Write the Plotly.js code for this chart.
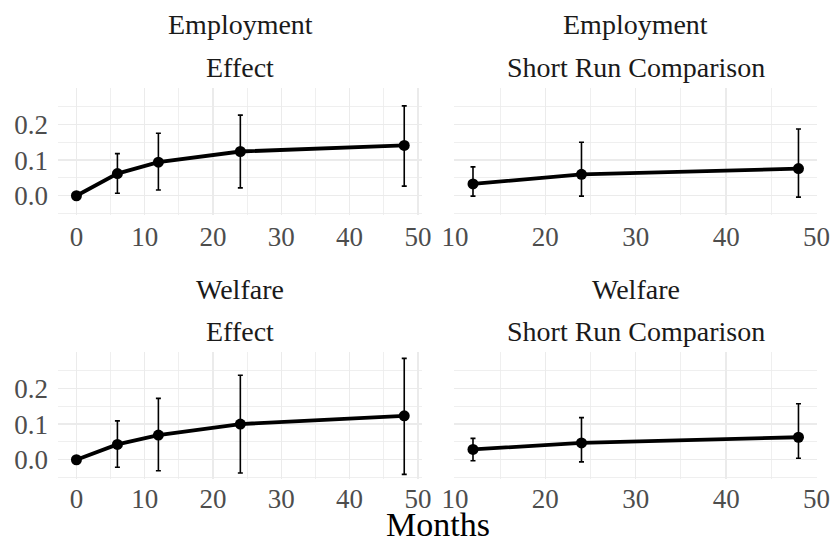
<!DOCTYPE html>
<html>
<head>
<meta charset="utf-8">
<script src="https://cdn.plot.ly/plotly-3.0.1.min.js"></script>
<style>
  html, body { margin: 0; padding: 0; background: #ffffff; }
  #chart { width: 833px; height: 544px; }
</style>
</head>
<body>
<div id="chart"></div>
<script>
// Months after random assignment
const monthsEffect = [0, 6, 12, 24, 48];
const monthsShortRun = [12, 24, 48];

// Employment: estimate with 95% interval
const empEffect   = [0, 0.062, 0.094, 0.124, 0.141];
const empEffectLo = [0, 0.007, 0.016, 0.022, 0.027];
const empEffectHi = [0, 0.118, 0.175, 0.226, 0.252];

const empShortRun   = [0.033, 0.060, 0.076];
const empShortRunLo = [-0.001, -0.001, -0.004];
const empShortRunHi = [0.081, 0.150, 0.187];

// Welfare: estimate with 95% interval
const welEffect   = [0, 0.043, 0.069, 0.100, 0.123];
const welEffectLo = [0, -0.021, -0.031, -0.037, -0.041];
const welEffectHi = [0, 0.109, 0.172, 0.237, 0.284];

const welShortRun   = [0.029, 0.047, 0.063];
const welShortRunLo = [-0.003, -0.006, 0.004];
const welShortRunHi = [0.060, 0.118, 0.157];

// Axis breaks
const yBreaks = [0, 0.1, 0.2];
const yMinorBreaks = [-0.05, 0.05, 0.15, 0.25];

// Facet strip labels
const outcomes = ["Employment", "Welfare"];
const comparisons = ["Effect", "Short Run Comparison"];
const xLabel = "Months";

const FONT = "'Liberation Serif', 'Times New Roman', 'DejaVu Serif', serif";

function series(x, y, lo, hi, xa, ya) {
  return {
    type: "scatter",
    mode: "lines+markers",
    x: x, y: y, xaxis: xa, yaxis: ya,
    line: { color: "#000000", width: 3.8 },
    marker: { color: "#000000", size: 11 },
    error_y: {
      type: "data", symmetric: false,
      array: hi.map((h, i) => h - y[i]),
      arrayminus: lo.map((l, i) => y[i] - l),
      color: "#000000", thickness: 1.6, width: 2.5
    },
    showlegend: false, hoverinfo: "skip"
  };
}

const traces = [
  series(monthsEffect, empEffect, empEffectLo, empEffectHi, "x", "y"),
  series(monthsShortRun, empShortRun, empShortRunLo, empShortRunHi, "x2", "y2"),
  series(monthsEffect, welEffect, welEffectLo, welEffectHi, "x3", "y3"),
  series(monthsShortRun, welShortRun, welShortRunLo, welShortRunHi, "x4", "y4")
];

const W = 833, H = 544;
const colX = [[58, 422], [454, 817]];
const rowY = [[88, 215], [352, 479]];
const px2x = p => p / W;
const px2y = p => 1 - p / H;

const tickFont = { family: FONT, size: 27, color: "#4D4D4D" };
const gridCol = "#EBEBEB";

function xAxis(col, row, range, anchor) {
  return {
    domain: [px2x(colX[col][0]), px2x(colX[col][1])],
    anchor: anchor,
    range: range,
    tickmode: "linear", tick0: 0, dtick: 10,
    showgrid: true, gridcolor: gridCol, gridwidth: 1.3,
    minor: { tick0: 0, dtick: 5, showgrid: true, gridcolor: gridCol, gridwidth: 0.8 },
    zeroline: false, showline: false, ticks: "",
    tickfont: tickFont, ticklabelstandoff: row === 0 ? 3 : 1
  };
}

function yAxis(row, anchor, showLabels, matchesY) {
  const a = {
    domain: [px2y(rowY[row][1]), px2y(rowY[row][0])],
    anchor: anchor,
    range: [-0.054, 0.302],
    tickmode: "array", tickvals: yBreaks,
    ticktext: yBreaks.map(v => v.toFixed(1)),
    showgrid: true, gridcolor: gridCol, gridwidth: 1.3,
    minor: { tickmode: "array", tickvals: yMinorBreaks, showgrid: true, gridcolor: gridCol, gridwidth: 0.8 },
    zeroline: false, showline: false, ticks: "",
    showticklabels: showLabels,
    tickfont: tickFont, ticklabelstandoff: 9
  };
  if (matchesY) a.matches = matchesY;
  return a;
}

const annotations = [];
const stripFont = { family: FONT, size: 28, color: "#1A1A1A" };
for (let r = 0; r < 2; r++) {
  for (let c = 0; c < 2; c++) {
    const cx = px2x((colX[c][0] + colX[c][1]) / 2);
    annotations.push({
      xref: "paper", yref: "paper", x: cx, y: px2y(rowY[r][0] - 63),
      xanchor: "center", yanchor: "middle", showarrow: false,
      text: outcomes[r], font: stripFont
    });
    annotations.push({
      xref: "paper", yref: "paper", x: cx, y: px2y(rowY[r][0] - 21),
      xanchor: "center", yanchor: "middle", showarrow: false,
      text: comparisons[c], font: stripFont
    });
  }
}
annotations.push({
  xref: "paper", yref: "paper",
  x: px2x((colX[0][0] + colX[1][1]) / 2), y: 0,
  xanchor: "center", yanchor: "bottom", showarrow: false, borderpad: 0,
  text: xLabel, font: { family: FONT, size: 34, color: "#000000" }
});

const layout = {
  width: W, height: H,
  margin: { l: 0, r: 0, t: 0, b: 0 },
  paper_bgcolor: "#ffffff", plot_bgcolor: "#ffffff",
  font: { family: FONT },
  xaxis:  xAxis(0, 0, [-2.7, 50.6], "y"),
  xaxis2: xAxis(1, 0, [9.9, 50.05], "y2"),
  xaxis3: xAxis(0, 1, [-2.7, 50.6], "y3"),
  xaxis4: xAxis(1, 1, [9.9, 50.05], "y4"),
  yaxis:  yAxis(0, "x", true),
  yaxis2: yAxis(0, "x2", false, "y"),
  yaxis3: yAxis(1, "x3", true, "y"),
  yaxis4: yAxis(1, "x4", false, "y"),
  annotations: annotations
};

Plotly.newPlot("chart", traces, layout, { staticPlot: true, displayModeBar: false });
</script>
</body>
</html>
